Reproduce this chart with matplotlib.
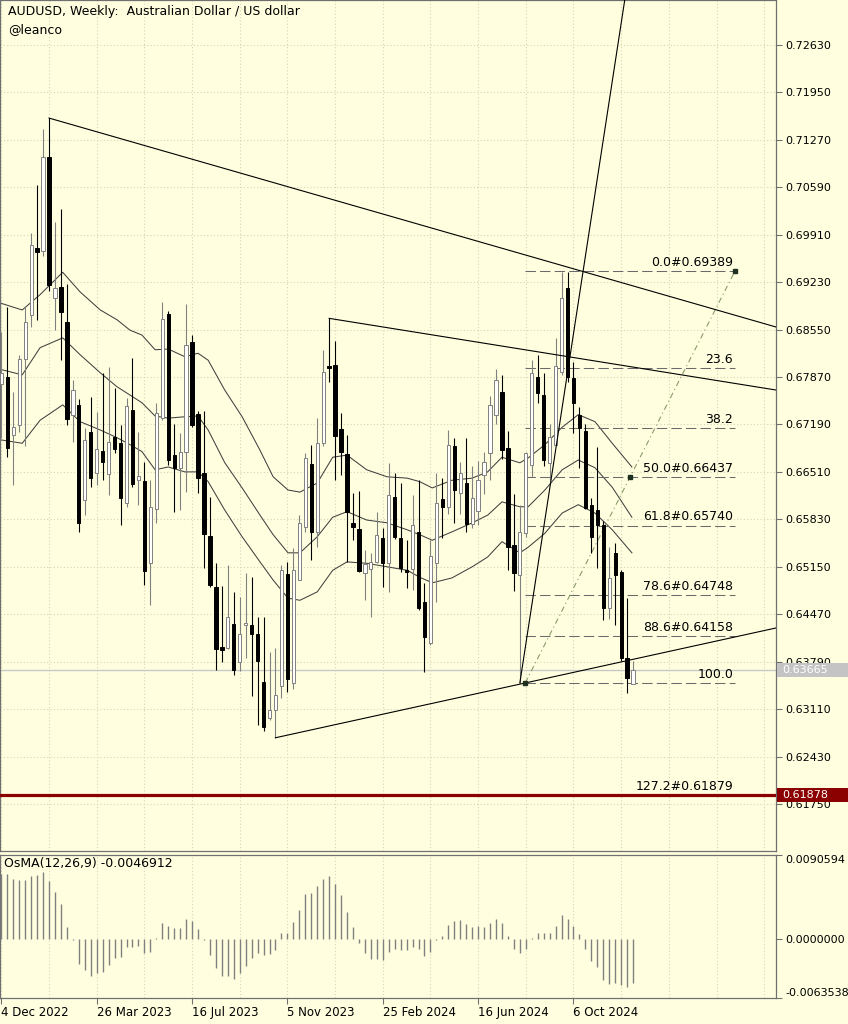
import matplotlib
matplotlib.use('Agg')
import matplotlib.pyplot as plt
from matplotlib.patches import Rectangle
from matplotlib.ticker import FixedLocator

plt.rcParams['font.family'] = ['DejaVu Sans']

# ---------------- data ----------------
bar_index = list(range(107))
opens = [0.6777,0.6787,0.6704,0.6718,0.6813,0.6876,0.6972,0.6967,0.7102,0.6900,
         0.6916,0.6866,0.6733,0.6747,0.6611,0.6708,0.6650,0.6681,0.6648,0.6701,
         0.6692,0.6607,0.6740,0.6640,0.6638,0.6521,0.6598,0.6728,0.6877,0.6675,
         0.6657,0.6680,0.6837,0.6734,0.6649,0.6559,0.6486,0.6400,0.6399,0.6433,
         0.6379,0.6432,0.6432,0.6419,0.6350,0.6298,0.6310,0.6344,0.6505,0.6349,
         0.6496,0.6572,0.6662,0.6565,0.6692,0.6803,0.6804,0.6712,0.6677,0.6578,
         0.6569,0.6506,0.6512,0.6522,0.6556,0.6521,0.6615,0.6556,0.6510,0.6512,
         0.6565,0.6465,0.6406,0.6521,0.6612,0.6600,0.6688,0.6621,0.6635,0.6576,
         0.6595,0.6646,0.6678,0.6733,0.6766,0.6685,0.6546,0.6503,0.6564,0.6661,
         0.6787,0.6761,0.6664,0.6690,0.6794,0.6915,0.6785,0.6733,0.6710,0.6604,
         0.6596,0.6575,0.6456,0.6535,0.6508,0.6384,0.63475]
highs = [0.6851,0.6887,0.6766,0.6819,0.6888,0.6993,0.7062,0.7142,0.7158,0.7009,
         0.7028,0.6920,0.6783,0.6755,0.6714,0.6758,0.6737,0.6793,0.6801,0.6771,
         0.6718,0.6757,0.6814,0.6708,0.6665,0.6640,0.6750,0.6894,0.6882,0.6720,
         0.6707,0.6892,0.6847,0.6738,0.6738,0.6615,0.6521,0.6487,0.6518,0.6479,
         0.6472,0.6506,0.6500,0.6443,0.6443,0.6393,0.6399,0.6518,0.6522,0.6542,
         0.6589,0.6678,0.6690,0.6728,0.6826,0.6871,0.6839,0.6735,0.6704,0.6621,
         0.6623,0.6539,0.6535,0.6594,0.6570,0.6664,0.6649,0.6635,0.6553,0.6618,
         0.6639,0.6492,0.6553,0.6649,0.6642,0.6711,0.6700,0.6665,0.6700,0.6660,
         0.6667,0.6680,0.6760,0.6798,0.6790,0.6710,0.6620,0.6604,0.6680,0.6811,
         0.6818,0.6793,0.6720,0.6843,0.6937,0.6938,0.6808,0.6744,0.6720,0.6614,
         0.6687,0.6580,0.6543,0.6549,0.6510,0.6470,0.6380]
lows = [0.6700,0.6672,0.6632,0.6708,0.6688,0.6859,0.6869,0.6960,0.6910,0.6854,
        0.6811,0.6718,0.6694,0.6565,0.6589,0.6629,0.6632,0.6639,0.6618,0.6678,
        0.6575,0.6600,0.6630,0.6604,0.6489,0.6460,0.6578,0.6725,0.6661,0.6593,
        0.6596,0.6622,0.6715,0.6621,0.6513,0.6486,0.6367,0.6378,0.6397,0.6360,
        0.6366,0.6384,0.6330,0.6288,0.6280,0.6296,0.6270,0.6327,0.6336,0.6340,
        0.6496,0.6565,0.6525,0.6543,0.6688,0.6780,0.6639,0.6646,0.6522,0.6553,
        0.6507,0.6467,0.6443,0.6520,0.6486,0.6479,0.6555,0.6508,0.6485,0.6482,
        0.6453,0.6364,0.6403,0.6465,0.6556,0.6590,0.6578,0.6590,0.6565,0.6570,
        0.6575,0.6620,0.6640,0.6720,0.6670,0.6510,0.6480,0.6349,0.6558,0.6644,
        0.6750,0.6659,0.6639,0.6688,0.6790,0.6780,0.6707,0.6657,0.6598,0.6535,
        0.6513,0.6439,0.6440,0.6432,0.6380,0.6334,0.6347]
closes = [0.6793,0.6685,0.6715,0.6813,0.6866,0.6976,0.6966,0.7102,0.6919,0.6915,
          0.6880,0.6727,0.6768,0.6578,0.6697,0.6642,0.6684,0.6665,0.6694,0.6684,
          0.6614,0.6745,0.6634,0.6645,0.6509,0.6601,0.6735,0.6870,0.6668,0.6657,
          0.6680,0.6833,0.6718,0.6642,0.6562,0.6489,0.6397,0.6396,0.6443,0.6367,
          0.6419,0.6434,0.6419,0.6380,0.6285,0.6310,0.6331,0.6510,0.6354,0.6510,
          0.6578,0.6671,0.6565,0.6692,0.6794,0.6800,0.6703,0.6680,0.6594,0.6572,
          0.6509,0.6519,0.6522,0.6561,0.6521,0.6618,0.6558,0.6513,0.6508,0.6575,
          0.6456,0.6415,0.6530,0.6607,0.6600,0.6689,0.6625,0.6650,0.6576,0.6614,
          0.6639,0.6665,0.6747,0.6783,0.6682,0.6543,0.6506,0.6565,0.6678,0.6793,
          0.6764,0.6668,0.6701,0.6803,0.6900,0.6787,0.6750,0.6714,0.6599,0.6558,
          0.6575,0.6456,0.6499,0.6503,0.6384,0.6355,0.63665]

osma = [0.00700,0.00696,0.00650,0.00639,0.00632,0.00675,0.00685,0.00721,0.00621,0.00507,
        0.00375,0.00132,-0.00011,-0.00271,-0.00332,-0.00403,-0.00368,-0.00350,-0.00278,-0.00207,
        -0.00196,-0.00082,-0.00082,-0.00075,-0.00154,-0.00136,0.00011,0.00168,0.00143,0.00114,
        0.00114,0.00221,0.00196,0.00107,-0.00011,-0.00171,-0.00314,-0.00403,-0.00403,-0.00432,
        -0.00368,-0.00289,-0.00207,-0.00154,-0.00171,-0.00161,-0.00118,0.00061,0.00061,0.00186,
        0.00318,0.00482,0.00496,0.00568,0.00650,0.00675,0.00596,0.00471,0.00293,0.00125,
        -0.00039,-0.00154,-0.00218,-0.00218,-0.00225,-0.00136,-0.00111,-0.00118,-0.00118,-0.00082,
        -0.00111,-0.00182,-0.00136,-0.00011,0.00032,0.00150,0.00196,0.00203,0.00161,0.00132,
        0.00139,0.00125,0.00175,0.00221,0.00175,0.00032,-0.00111,-0.00154,-0.00111,0.00007,
        0.00068,0.00061,0.00068,0.00139,0.00257,0.00221,0.00139,0.00054,-0.00111,-0.00236,
        -0.00303,-0.00446,-0.00482,-0.00475,-0.00493,-0.00518,-0.0046912]

band_idx = [-0.2,3.5,6.5,10.3,13.2,16.6,19.4,21.6,23.6,25.8,
            28,30.8,33,34.7,37.5,40.4,43.4,45.6,48.1,50.1,
            53,55.6,58,61.3,64.7,68.1,70.2,72.3,75.6,79,
            81.6,84,87,88.4,91.2,94.1,96.8,99.6,102.5,105.8]
band_upper = [0.6893,0.6883,0.6905,0.6937,0.6909,0.6883,0.6869,0.6854,0.6847,0.6826,
              0.6827,0.6816,0.6821,0.6811,0.6768,0.6730,0.6682,0.6644,0.6625,0.6622,
              0.6635,0.6672,0.6675,0.6654,0.6644,0.6642,0.6637,0.6628,0.6639,0.6642,
              0.6651,0.6672,0.6664,0.6671,0.6690,0.6715,0.6733,0.6723,0.6692,0.6658]
band_mid = [0.6798,0.6790,0.6829,0.6843,0.6819,0.6793,0.6773,0.6761,0.6750,0.6731,
            0.6728,0.6730,0.6731,0.6711,0.6664,0.6628,0.6589,0.6561,0.6535,0.6535,
            0.6558,0.6586,0.6594,0.6582,0.6578,0.6568,0.6561,0.6553,0.6565,0.6578,
            0.6589,0.6608,0.6601,0.6601,0.6625,0.6654,0.6668,0.6657,0.6629,0.6586]
band_lower = [0.6697,0.6692,0.6725,0.6747,0.6723,0.6711,0.6700,0.6690,0.6680,0.6654,
              0.6658,0.6651,0.6651,0.6637,0.6596,0.6558,0.6522,0.6496,0.6470,0.6467,
              0.6479,0.6510,0.6522,0.6520,0.6515,0.6510,0.6500,0.6492,0.6499,0.6515,
              0.6529,0.6551,0.6535,0.6543,0.6563,0.6592,0.6604,0.6592,0.6568,0.6535]

trend_start_idx = [8, 55, 46, 87.0]
trend_start_price = [0.7158, 0.6871, 0.6270, 0.63485]
trend_end_idx = [129.98, 129.98, 129.98, 104.6]
trend_end_price = [0.68586, 0.67683, 0.64273, 0.73272]

fib_start_idx = 87.9
fib_end_idx = 123.1
fib_price_0 = 0.69389
fib_price_100 = 0.63485
fib_levels = [0.0, 23.6, 38.2, 50.0, 61.8, 78.6, 88.6, 100.0, 127.2]
fib_labels = ['0.0#0.69389', '23.6', '38.2', '50.0#0.66437', '61.8#0.65740',
              '78.6#0.64748', '88.6#0.64158', '100.0', '127.2#0.61879']

price_ticks = [0.72630, 0.71950, 0.71270, 0.70590, 0.69910, 0.69230, 0.68550,
               0.67870, 0.67190, 0.66510, 0.65830, 0.65150, 0.64470, 0.63790,
               0.63110, 0.62430, 0.61750]
target_price = 0.61878
current_price = 0.63665
osc_ticks = [-0.0063538, 0.0, 0.0090594]
date_label_idx = [0, 16, 32, 48, 64, 80, 96]
date_labels = ['4 Dec 2022', '26 Mar 2023', '16 Jul 2023', '5 Nov 2023',
               '25 Feb 2024', '16 Jun 2024', '6 Oct 2024']
grid_idx = list(range(0, 136, 8))

# ---------------- style ----------------
BG = '#FFFFE0'
GRID = '#d4d4b8'
FRAME = '#707070'
W, H = 848, 1024

fig = plt.figure(figsize=(W / 100, H / 100), dpi=100, facecolor=BG)


def rect(x0, y0, x1, y1):
    return [x0 / W, 1 - y1 / H, (x1 - x0) / W, (y1 - y0) / H]


ax = fig.add_axes(rect(0, 0, 776, 851), facecolor=BG)
axo = fig.add_axes(rect(0, 855, 776, 998), facecolor=BG)

XMIN, XMAX = -0.2265, 129.98
ax.set_xlim(XMIN, XMAX)
ax.set_ylim(0.61077, 0.73272)
axo.set_xlim(XMIN, XMAX)
axo.set_ylim(osc_ticks[0], osc_ticks[-1])

for a in (ax, axo):
    for s in a.spines.values():
        s.set_color(FRAME)
        s.set_linewidth(0.9)

# grid
ax.xaxis.set_major_locator(FixedLocator(grid_idx))
ax.tick_params(axis='x', length=0, labelbottom=False)
ax.set_yticks(price_ticks)
ax.set_yticklabels(['%.5f' % v for v in price_ticks])
ax.yaxis.tick_right()
ax.tick_params(axis='y', direction='out', length=4, width=0.8, color=FRAME,
               labelsize=8, pad=3, labelcolor='black')
ax.grid(True, color=GRID, linestyle=(0, (1, 2)), linewidth=0.8, zorder=0)

# bands
for vals in (band_upper, band_mid, band_lower):
    ax.plot(band_idx, vals, color='#404040', lw=0.75, zorder=2)

# candles
for i, o, h, l, c in zip(bar_index, opens, highs, lows, closes):
    bull = c >= o
    wick_col = '#808080' if bull else 'black'
    ax.vlines(i, l, h, color=wick_col, lw=0.8, zorder=3)
    body_h = max(abs(c - o), 0.00003)
    if bull:
        ax.bar(i, body_h, bottom=min(o, c), width=0.55, facecolor='white',
               edgecolor='#808080', linewidth=0.7, zorder=4)
    else:
        ax.bar(i, body_h, bottom=min(o, c), width=0.55, facecolor='black',
               edgecolor='black', linewidth=0.7, zorder=4)

# current price & target line
ax.axhline(current_price, color='#c8c8c8', lw=1.0, zorder=1)
ax.axhline(target_price, color='#8B0000', lw=2.3, zorder=5)

# trend lines (rays)
for x0, y0, x1, y1 in zip(trend_start_idx, trend_start_price, trend_end_idx, trend_end_price):
    slope = (y1 - y0) / (x1 - x0)
    xe = XMAX + 1 if x1 > 120 else x1 + 3
    ax.plot([x0, xe], [y0, y0 + slope * (xe - x0)], color='black', lw=0.8, zorder=5)

# fibonacci
fib_range = fib_price_0 - fib_price_100
for lvl, lab in zip(fib_levels, fib_labels):
    p = fib_price_0 - lvl / 100.0 * fib_range
    ax.plot([fib_start_idx, fib_end_idx], [p, p], color='#6a6a6a', lw=0.75,
            ls=(0, (10, 4)), zorder=2.5)
    ax.annotate(lab, xy=(fib_end_idx - 0.3, p), xytext=(0, 1.5), textcoords='offset points',
                ha='right', va='bottom', fontsize=9, color='black', zorder=6)
fib_mid_idx = (fib_start_idx + fib_end_idx) / 2
fib_mid_price = (fib_price_0 + fib_price_100) / 2
ax.plot([fib_start_idx, fib_end_idx], [fib_price_100, fib_price_0], color='#8a9a6a',
        lw=0.8, ls=(0, (5, 3, 1, 3)), zorder=2.5)
ax.plot([fib_start_idx, fib_mid_idx, fib_end_idx], [fib_price_100, fib_mid_price, fib_price_0],
        ls='none', marker='s', ms=2.2, color='#203020', zorder=6)

# price boxes on the right axis
fig.canvas.draw()


def price_box(price, fc, txt):
    ydisp = ax.transData.transform((0, price))[1]
    yf = ydisp / fig.bbox.height
    hh = 14 / H
    fig.patches.append(Rectangle((777 / W, yf - hh / 2), 71 / W, hh, transform=fig.transFigure,
                                 facecolor=fc, edgecolor='none', zorder=20))
    fig.text(782 / W, yf, txt, color='white', fontsize=8, va='center', ha='left', zorder=21)


price_box(current_price, '#c4c4c4', '%.5f' % current_price)
price_box(target_price, '#8B0000', '%.5f' % target_price)

# titles
fig.text(8 / W, 1 - 12 / H, 'AUDUSD, Weekly:  Australian Dollar / US dollar', fontsize=9,
         va='center', ha='left', color='black')
fig.text(8 / W, 1 - 30 / H, '@leanco', fontsize=9, va='center', ha='left', color='black')

# oscillator
axo.vlines(bar_index, 0, osma, color='#808080', lw=1.0, zorder=3)
axo.xaxis.set_major_locator(FixedLocator(date_label_idx))
axo.xaxis.set_minor_locator(FixedLocator(grid_idx))
axo.set_xticklabels(date_labels)
for t in axo.get_xticklabels():
    t.set_ha('left')
axo.tick_params(axis='x', which='major', direction='out', length=4, width=0.8, color=FRAME,
                labelsize=8.5, pad=2)
axo.tick_params(axis='x', which='minor', length=0)
axo.grid(True, which='both', axis='x', color=GRID, linestyle=(0, (1, 2)), linewidth=0.8, zorder=0)
axo.set_yticks(osc_ticks)
axo.set_yticklabels(['%.7f' % v for v in osc_ticks])
axo.yaxis.tick_right()
axo.tick_params(axis='y', direction='out', length=4, width=0.8, color=FRAME, labelsize=8, pad=3)
ylabs = axo.get_yticklabels()
ylabs[0].set_va('bottom')
ylabs[-1].set_va('top')
axo.text(4 / 776, 1 - 9 / 143, 'OsMA(12,26,9) -0.0046912', transform=axo.transAxes,
         fontsize=9, va='center', ha='left')

fig.savefig('out.png', dpi=100, facecolor=BG)
